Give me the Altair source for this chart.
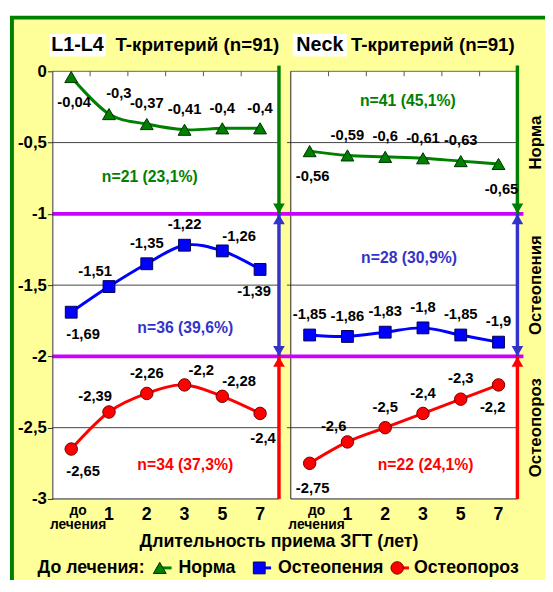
import altair as alt
import pandas as pd

# ---------------- data ----------------
CATEGORIES = ["до лечения", "1", "2", "3", "5", "7"]
PANELS = ["L1-L4", "Neck"]
SERIES = ["Норма", "Остеопения", "Остеопороз"]

L1L4_NORMA = [-0.04, -0.3, -0.37, -0.41, -0.4, -0.4]
L1L4_OSTEOPENIA = [-1.69, -1.51, -1.35, -1.22, -1.26, -1.39]
L1L4_OSTEOPOROSIS = [-2.65, -2.39, -2.26, -2.2, -2.28, -2.4]
NECK_NORMA = [-0.56, -0.59, -0.6, -0.61, -0.63, -0.65]
NECK_OSTEOPENIA = [-1.85, -1.86, -1.83, -1.8, -1.85, -1.9]
NECK_OSTEOPOROSIS = [-2.75, -2.6, -2.5, -2.4, -2.3, -2.2]

# label placement codes: a=above, b=below, al/ar/bl/br = diagonal, au = above, slightly right
L1L4_NORMA_POS = ["b", "au", "a", "a", "a", "a"]
L1L4_OSTEOPENIA_POS = ["br", "al", "a", "a", "ar", "bl"]
L1L4_OSTEOPOROSIS_POS = ["br", "al", "a", "ar", "ar", "b"]
NECK_NORMA_POS = ["b", "a", "a", "a", "a", "b"]
NECK_OSTEOPENIA_POS = ["a", "a", "a", "a", "a", "a"]
NECK_OSTEOPOROSIS_POS = ["b", "al", "a", "a", "a", "bl"]

Y_TICKS = [0, -0.5, -1, -1.5, -2, -2.5, -3]
GRID_VALUES = [-0.5, -1.5, -2.5]
ZONE_LIMITS = [-1, -2]
ZONE_CENTERS = [-0.5, -1.5, -2.5]

ANNOT_PANEL = ["L1-L4", "L1-L4", "L1-L4", "Neck", "Neck", "Neck"]
ANNOT_SERIES = ["Норма", "Остеопения", "Остеопороз", "Норма", "Остеопения", "Остеопороз"]
ANNOT_TEXT = ["n=21 (23,1%)", "n=36 (39,6%)", "n=34 (37,3%)",
              "n=41 (45,1%)", "n=28 (30,9%)", "n=22 (24,1%)"]
ANNOT_X = [2.58, 3.52, 3.52, 3.1, 3.13, 3.57]
ANNOT_Y = [-0.74, -1.80, -2.76, -0.21, -1.31, -2.76]

TITLE_SUFFIX = "T-критерий (n=91)"
X_TITLE = "Длительность приема ЗГТ (лет)"
LEGEND_TITLE = "До лечения:"

# ---------------- layout / style ----------------
FONT = "Liberation Sans"
G = 0.313
U = 12 + G
W, H = 472, 434
OFF = {"L1-L4": 0.0, "Neck": 6 + G}
PLACE = {"a": (0, -21), "b": (3, 25), "al": (-14, -16), "ar": (17, -15), "au": (10, -21),
         "bl": (-6, 22), "br": (12, 22)}
LINE_COL = {"Норма": "#008000", "Остеопения": "#0000ff", "Остеопороз": "#ff0000"}
MARK_STROKE = {"Норма": "#003000", "Остеопения": "#000050", "Остеопороз": "#700000"}
SHAPE = {"Норма": "triangle-up", "Остеопения": "square", "Остеопороз": "circle"}
MSIZE = {"Норма": 170, "Остеопения": 144, "Остеопороз": 160}
ANNOT_COL = ["#3e7d0c", "#3c3cd0", "#d40000"]
ARROW_COL = {"Норма": "#008000", "Остеопения": "#3333cc", "Остеопороз": "#ff0000"}
TITLE_BOX = {"L1-L4": (-3, 54), "Neck": (244, 299)}
SUFFIX_X = {"L1-L4": 64, "Neck": 303}

values = {
    ("L1-L4", "Норма"): (L1L4_NORMA, L1L4_NORMA_POS),
    ("L1-L4", "Остеопения"): (L1L4_OSTEOPENIA, L1L4_OSTEOPENIA_POS),
    ("L1-L4", "Остеопороз"): (L1L4_OSTEOPOROSIS, L1L4_OSTEOPOROSIS_POS),
    ("Neck", "Норма"): (NECK_NORMA, NECK_NORMA_POS),
    ("Neck", "Остеопения"): (NECK_OSTEOPENIA, NECK_OSTEOPENIA_POS),
    ("Neck", "Остеопороз"): (NECK_OSTEOPOROSIS, NECK_OSTEOPOROSIS_POS),
}

rows = []
for p in PANELS:
    for s in SERIES:
        vals, pos = values[(p, s)]
        for i, c in enumerate(CATEGORIES):
            rows.append(dict(panel=p, series=s, cat=c, x=OFF[p] + i + 0.5,
                             value=vals[i], label=str(vals[i]).replace(".", ","),
                             place=pos[i]))
df = pd.DataFrame(rows)

xs = alt.Scale(domain=[0, U], nice=False, zero=False)
ys = alt.Scale(domain=[-3, 0], nice=False, zero=False)
yaxis = alt.Axis(values=Y_TICKS, labelExpr="replace(''+datum.value, '.', ',')",
                 labelFont=FONT, labelFontSize=17, labelFontWeight="bold",
                 labelColor="black", tickColor="#333", domainColor="#333",
                 tickSize=5, labelPadding=1, grid=False, zindex=1, title=None)


def X(f):
    return alt.X(f, type="quantitative", scale=xs, axis=None, title=None)


def Y(f):
    return alt.Y(f, type="quantitative", scale=ys, axis=yaxis, title=None)


one = pd.DataFrame({"k": [0]})
layers = []

# frame
layers.append(alt.Chart(one).mark_rect(fill="#ffff99", stroke="#008000", strokeWidth=4).encode(
    x=alt.value(-41), x2=alt.value(800), y=alt.value(-54.5), y2=alt.value(800)))

# panel backgrounds
pdf = pd.DataFrame({"panel": PANELS, "x0": [OFF[p] for p in PANELS],
                    "x1": [OFF[p] + 6 for p in PANELS], "top": [0, 0], "bot": [-3, -3]})
layers.append(alt.Chart(pdf).mark_rect(fill="white").encode(
    x=X("x0"), x2="x1", y=Y("top"), y2="bot"))

# gridlines
gdf = pd.DataFrame([dict(x0=OFF[p] - (0.1 if p == "Neck" else 0), x1=OFF[p] + 6, y=v)
                    for p in PANELS for v in GRID_VALUES])
layers.append(alt.Chart(gdf).mark_rule(color="#444", strokeWidth=1).encode(
    x=X("x0"), x2="x1", y=Y("y")))

# panel borders
bdf = pd.DataFrame([dict(x0=OFF[p], x1=OFF[p] + 6, y=v, c=("#666" if v == 0 else "#222"))
                    for p in PANELS for v in [0, -3]])
layers.append(alt.Chart(bdf).mark_rule(strokeWidth=1).encode(
    x=X("x0"), x2="x1", y=Y("y"), color=alt.Color("c:N", scale=None)))
layers.append(alt.Chart(pd.DataFrame({"x": [OFF["Neck"]], "t": [0], "b": [-3]})).mark_rule(
    color="#222", strokeWidth=1).encode(x=X("x"), y=Y("t"), y2="b"))

# top category ticks (between categories)
tdf = pd.DataFrame([dict(x=OFF[p] + k) for p in PANELS for k in range(1, len(CATEGORIES))])
layers.append(alt.Chart(tdf).mark_rule(color="#555", strokeWidth=1).encode(
    x=X("x"), y=alt.value(0), y2=alt.value(5)))

# magenta zone limits
mdf = pd.DataFrame({"y": ZONE_LIMITS, "x0": [0, 0], "x1": [U + 0.16, U + 0.16]})
layers.append(alt.Chart(mdf).mark_rule(color="#cc00ff", strokeWidth=4).encode(
    x=X("x0"), x2="x1", y=Y("y")))

# arrows at right edges of the panels
arows = []
for p in PANELS:
    xa = OFF[p] + 6
    arows += [dict(x=xa, y0=0.04, y1=-1, s="Норма"),
              dict(x=xa, y0=-1, y1=-2, s="Остеопения"),
              dict(x=xa, y0=-3, y1=-2, s="Остеопороз")]
adf = pd.DataFrame(arows)
acol = alt.Color("s:N", scale=alt.Scale(domain=SERIES, range=[ARROW_COL[s] for s in SERIES]),
                 legend=None)
layers.append(alt.Chart(adf).mark_rule(strokeWidth=3.5).encode(
    x=X("x"), y=Y("y0"), y2="y1", color=acol))
heads = []
for p in PANELS:
    xa = OFF[p] + 6
    heads += [dict(x=xa, y=-1, s="Норма", d="down"),
              dict(x=xa, y=-1, s="Остеопения", d="up"),
              dict(x=xa, y=-2, s="Остеопения", d="down"),
              dict(x=xa, y=-2, s="Остеопороз", d="up")]
hdf = pd.DataFrame(heads)
for d, shp, off in [("down", "triangle-down", -5.5), ("up", "triangle-up", 5.5)]:
    layers.append(alt.Chart(hdf).transform_filter(alt.datum.d == d).mark_point(
        shape=shp, filled=True, size=140, opacity=1, yOffset=off).encode(
        x=X("x"), y=Y("y"), color=acol))

# series lines and markers
for s in SERIES:
    base = alt.Chart(df).transform_filter(alt.datum.series == s)
    layers.append(base.mark_line(color=LINE_COL[s], strokeWidth=3, interpolate="cardinal").encode(
        x=X("x"), y=Y("value"), detail="panel:N"))
    layers.append(base.mark_point(shape=SHAPE[s], filled=True, fill=LINE_COL[s],
                                  stroke=MARK_STROKE[s], strokeWidth=1, size=MSIZE[s],
                                  opacity=1).encode(x=X("x"), y=Y("value")))

# value labels
for code, (dx, dy) in PLACE.items():
    layers.append(alt.Chart(df).transform_filter(alt.datum.place == code).mark_text(
        dx=dx, dy=dy, font=FONT, fontSize=15, fontWeight="bold", color="black").encode(
        x=X("x"), y=Y("value"), text="label:N"))

# group annotations
ndf = pd.DataFrame({"x": [OFF[p] + ax for p, ax in zip(ANNOT_PANEL, ANNOT_X)],
                    "y": ANNOT_Y, "t": ANNOT_TEXT, "series": ANNOT_SERIES})
layers.append(alt.Chart(ndf).mark_text(font=FONT, fontSize=16, fontWeight="bold").encode(
    x=X("x"), y=Y("y"), text="t:N",
    color=alt.Color("series:N", scale=alt.Scale(domain=SERIES, range=ANNOT_COL), legend=None)))

# zone labels on the right
zdf = pd.DataFrame({"y": ZONE_CENTERS, "t": SERIES})
layers.append(alt.Chart(zdf).mark_text(font=FONT, fontSize=17, fontWeight="bold", angle=270,
                                       color="black").encode(
    x=alt.value(491), y=Y("y"), text="t:N"))

# panel titles
for p in PANELS:
    bx0, bx1 = TITLE_BOX[p]
    layers.append(alt.Chart(one).mark_rect(fill="white").encode(
        x=alt.value(bx0), x2=alt.value(bx1), y=alt.value(-38), y2=alt.value(-15)))
    layers.append(alt.Chart(pd.DataFrame({"t": [p]})).mark_text(
        font=FONT, fontSize=20, fontWeight="bold", color="black").encode(
        x=alt.value((bx0 + bx1) / 2), y=alt.value(-27), text="t:N"))
    layers.append(alt.Chart(pd.DataFrame({"t": [TITLE_SUFFIX]})).mark_text(
        font=FONT, fontSize=19, fontWeight="bold", color="black", align="left").encode(
        x=alt.value(SUFFIX_X[p]), y=alt.value(-27), text="t:N"))

# category labels
cdf = pd.DataFrame([dict(x=OFF[p] + i + 0.5, c=c, first=(i == 0))
                    for p in PANELS for i, c in enumerate(CATEGORIES)])
layers.append(alt.Chart(cdf).transform_filter("!datum.first").mark_text(
    font=FONT, fontSize=18, fontWeight="bold", color="black").encode(
    x=X("x"), y=alt.value(H + 16), text="c:N"))
layers.append(alt.Chart(cdf).transform_filter("datum.first").mark_text(
    font=FONT, fontSize=14, fontWeight="bold", color="black", lineBreak=" ",
    lineHeight=15, dx=7, baseline="top").encode(
    x=X("x"), y=alt.value(H + 5), text="c:N"))

# x title
layers.append(alt.Chart(pd.DataFrame({"t": [X_TITLE]})).mark_text(
    font=FONT, fontSize=18, fontWeight="bold", color="black").encode(
    x=alt.value(230), y=alt.value(H + 44), text="t:N"))

# legend
LY = H + 70
layers.append(alt.Chart(pd.DataFrame({"t": [LEGEND_TITLE]})).mark_text(
    font=FONT, fontSize=18, fontWeight="bold", color="black", align="left").encode(
    x=alt.value(-15), y=alt.value(LY), text="t:N"))
LEG_MARK_X = [109, 210, 350]
LEG_TEXT_X = [128, 229, 367]
for s, mx, tx in zip(SERIES, LEG_MARK_X, LEG_TEXT_X):
    layers.append(alt.Chart(one).mark_rule(color=LINE_COL[s], strokeWidth=3).encode(
        x=alt.value(mx - 3), x2=alt.value(mx + 12), y=alt.value(LY)))
    layers.append(alt.Chart(one).mark_point(shape=SHAPE[s], filled=True, fill=LINE_COL[s],
                                            stroke=MARK_STROKE[s], strokeWidth=1,
                                            size=MSIZE[s], opacity=1).encode(
        x=alt.value(mx), y=alt.value(LY)))
    layers.append(alt.Chart(pd.DataFrame({"t": [s]})).mark_text(
        font=FONT, fontSize=18, fontWeight="bold", color="black", align="left").encode(
        x=alt.value(tx), y=alt.value(LY), text="t:N"))

chart = alt.layer(*layers).properties(
    width=W, height=H,
    autosize=alt.AutoSizeParams(type="none"),
    padding={"left": 45, "top": 60, "right": 28, "bottom": 78},
    background="white",
).configure_view(stroke=None)

chart.save("out.html", embed_options={"renderer": "svg", "actions": False})
